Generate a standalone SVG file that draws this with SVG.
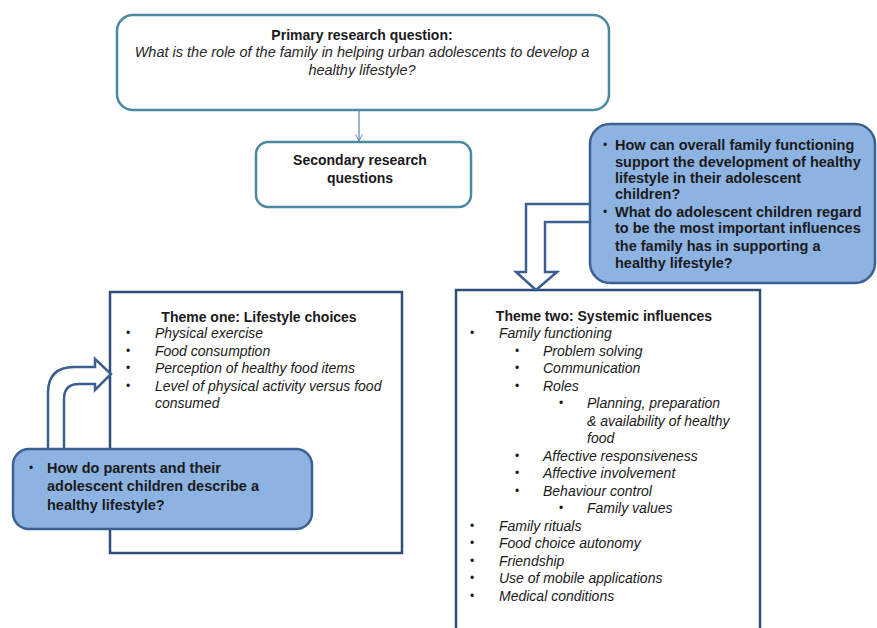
<svg xmlns="http://www.w3.org/2000/svg" width="877" height="628" viewBox="0 0 877 628">
<defs>
<style>
.teal{fill:#fff;stroke:#4a8aa0;stroke-width:2.5}
.theme{fill:#fff;stroke:#2f4d78;stroke-width:2.5}
.blue{fill:#8db3e2;stroke:#3c6191;stroke-width:2.5}
.arr{fill:#fff;stroke:#3c5f8f;stroke-width:2.5;stroke-linejoin:miter}
text{font-family:"Liberation Sans",Arial,sans-serif;fill:#1a1a1a}
.b{font-weight:bold;font-size:14px}
.bq{font-weight:bold;font-size:14.5px}
.i{font-style:italic;font-size:14px;fill:#262626}
.pi{font-style:italic;font-size:14.5px;fill:#262626}
.d{font-size:12px}
.c{text-anchor:middle}
</style>
<marker id="ah" viewBox="0 0 10 10" refX="9" refY="5" markerWidth="8" markerHeight="8" orient="auto" markerUnits="userSpaceOnUse">
<path d="M1 1 L9 5 L1 9" fill="none" stroke="#5b7fb5" stroke-width="1.2"/>
</marker>
</defs>

<g id="primary">
<rect class="teal" x="117" y="15" width="492" height="95" rx="16"/>
<text class="b c" x="362" y="40">Primary research question:</text>
<text class="pi c" x="362" y="57">What is the role of the family in helping urban adolescents to develop a</text>
<text class="pi c" x="362" y="75">healthy lifestyle?</text>
</g>

<g id="secondary">
<rect class="teal" x="256" y="142" width="215" height="65" rx="12"/>
<text class="b c" x="360" y="165">Secondary research</text>
<text class="b c" x="360" y="183">questions</text>
</g>

<g id="theme-one">
<rect class="theme" x="110" y="292" width="292" height="261"/>
<text class="b c" x="259" y="322">Theme one: Lifestyle choices</text>
<g class="i">
<text x="155" y="338">Physical exercise</text>
<text x="155" y="355.5">Food consumption</text>
<text x="155" y="373">Perception of healthy food items</text>
<text x="155" y="390.5">Level of physical activity versus food</text>
<text x="155" y="408">consumed</text>
</g>
<g class="d">
<text x="126" y="337">•</text>
<text x="126" y="354.5">•</text>
<text x="126" y="372">•</text>
<text x="126" y="389.5">•</text>
</g>
</g>

<g id="theme-two">
<rect class="theme" x="456" y="290" width="304" height="350"/>
<text class="b c" x="604" y="321">Theme two: Systemic influences</text>
<g class="i">
<text x="499" y="338">Family functioning</text>
<text x="543" y="355.5">Problem solving</text>
<text x="543" y="373">Communication</text>
<text x="543" y="390.5">Roles</text>
<text x="587" y="408">Planning, preparation</text>
<text x="587" y="425.5">&amp; availability of healthy</text>
<text x="587" y="443">food</text>
<text x="543" y="460.5">Affective responsiveness</text>
<text x="543" y="478">Affective involvement</text>
<text x="543" y="495.5">Behaviour control</text>
<text x="587" y="513">Family values</text>
<text x="499" y="530.5">Family rituals</text>
<text x="499" y="548">Food choice autonomy</text>
<text x="499" y="565.5">Friendship</text>
<text x="499" y="583">Use of mobile applications</text>
<text x="499" y="600.5">Medical conditions</text>
</g>
<g class="d">
<text x="470" y="337">•</text>
<text x="515" y="354.5">•</text>
<text x="515" y="372">•</text>
<text x="515" y="389.5">•</text>
<text x="559" y="407">•</text>
<text x="515" y="459.5">•</text>
<text x="515" y="477">•</text>
<text x="515" y="494.5">•</text>
<text x="559" y="512">•</text>
<text x="470" y="529.5">•</text>
<text x="470" y="547">•</text>
<text x="470" y="564.5">•</text>
<text x="470" y="582">•</text>
<text x="470" y="599.5">•</text>
</g>
</g>

<g id="connectors">
<line x1="359" y1="110" x2="359" y2="141" stroke="#5b7fb5" stroke-width="1.2" marker-end="url(#ah)"/>
<path class="arr" d="M600 204 L526 204 L526 272 L516 272 L536 290 L557 272 L545 272 L545 222 L600 222"/>
<path class="arr" d="M48 460 L48 393 Q48 367 74 367 L95 367 L95 359 L111 374 L95 390 L95 384 L79 384 Q64 384 64 399 L64 460"/>
</g>

<g id="q-right">
<rect class="blue" x="590" y="124" width="285" height="159" rx="20"/>
<g class="bq">
<text x="615" y="150">How can overall family functioning</text>
<text x="615" y="167">support the development of healthy</text>
<text x="615" y="183">lifestyle in their adolescent</text>
<text x="615" y="199">children?</text>
<text x="615" y="217">What do adolescent children regard</text>
<text x="615" y="233">to be the most important influences</text>
<text x="615" y="251">the family has in supporting a</text>
<text x="615" y="268">healthy lifestyle?</text>
</g>
<g class="d">
<text x="603" y="149">•</text>
<text x="603" y="216">•</text>
</g>
</g>

<g id="q-left">
<rect class="blue" x="13" y="449" width="299" height="80" rx="16"/>
<g class="bq">
<text x="47" y="473">How do parents and their</text>
<text x="47" y="491">adolescent children describe a</text>
<text x="47" y="510">healthy lifestyle?</text>
</g>
<text class="d" x="29" y="472">•</text>
</g>
</svg>
